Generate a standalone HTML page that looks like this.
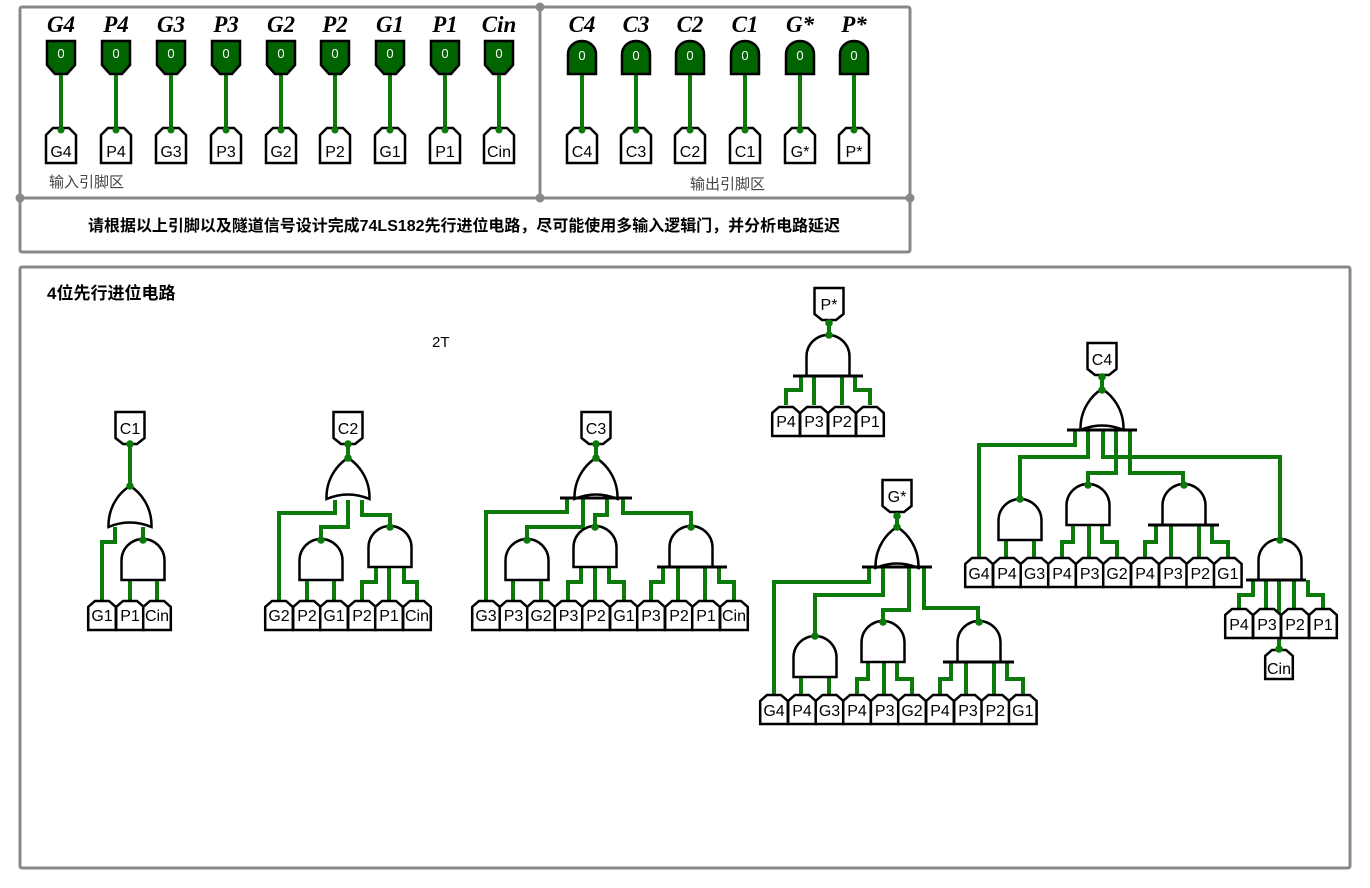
<!DOCTYPE html>
<html><head><meta charset="utf-8"><style>
html,body{margin:0;padding:0;background:#fff;}
svg{display:block;font-family:"Liberation Sans","Noto Sans CJK SC",sans-serif;}
.w{stroke:#0b7a0b;stroke-width:4;fill:none;stroke-linejoin:miter}
.g{fill:#fff;stroke:#000;stroke-width:2.5}
.b{stroke:#000;stroke-width:3}
.t{font-size:16px;text-anchor:middle;fill:#000}
.h{font-family:"Liberation Serif",serif;font-weight:bold;font-style:italic;font-size:23px;text-anchor:middle}
.d{fill:#0b7a0b}
</style></head><body>
<svg width="1370" height="888" viewBox="0 0 1370 888" xmlns="http://www.w3.org/2000/svg">
<defs>
<path id="tu" class="g" d="M-13.8,30V7L-7,1H7L13.8,7V30Z"/>
<path id="tu2" class="g" d="M-15,35V7L-8,0H8L15,7V35Z"/>
<path id="td" class="g" d="M-14.5,0H14.5V26L7,32H-7L-14.5,26Z"/>
<path id="or" class="g" d="M-21.5,41C-22,20 -10,6 0,0C10,6 22,20 21.5,41Q0,32 -21.5,41Z"/>
<path id="and" class="g" d="M-21.5,41V21.5A21.5,21.5 0 0 1 21.5,21.5V41Z"/>
<path id="pin" d="M-14,0H14V24L6,33H-6L-14,24Z" fill="#006400" stroke="#000" stroke-width="2.5"/>
<path id="pout" d="M-14,33V13A14,13 0 0 1 14,13V33Z" fill="#006400" stroke="#000" stroke-width="2.5"/>
<circle id="dt" r="3.8" fill="#0b7a0b"/>
</defs>

<rect x="20" y="7" width="890" height="245" fill="none" stroke="#888" stroke-width="3" rx="2"/>
<line x1="540" y1="7" x2="540" y2="198" stroke="#888" stroke-width="3"/>
<line x1="20" y1="198" x2="910" y2="198" stroke="#888" stroke-width="3"/>
<circle cx="540" cy="7" r="4.5" fill="#888"/><circle cx="20" cy="198" r="4.5" fill="#888"/>
<circle cx="540" cy="198" r="4.5" fill="#888"/><circle cx="910" cy="198" r="4.5" fill="#888"/>
<rect x="20" y="267" width="1330" height="601" fill="none" stroke="#888" stroke-width="3" rx="2"/>

<g>
<path class="w" d="M61,70V130M116,70V130M171,70V130M226,70V130M281,70V130M335,70V130M390,70V130M445,70V130M499,70V130M582,70V130M636,70V130M690,70V130M745,70V130M800,70V130M854,70V130"/>
<use href="#pin" x="61" y="41"/><use href="#pin" x="116" y="41"/><use href="#pin" x="171" y="41"/><use href="#pin" x="226" y="41"/><use href="#pin" x="281" y="41"/><use href="#pin" x="335" y="41"/><use href="#pin" x="390" y="41"/><use href="#pin" x="445" y="41"/><use href="#pin" x="499" y="41"/>
<use href="#pout" x="582" y="41"/><use href="#pout" x="636" y="41"/><use href="#pout" x="690" y="41"/><use href="#pout" x="745" y="41"/><use href="#pout" x="800" y="41"/><use href="#pout" x="854" y="41"/>
<g fill="#fff" font-size="13" text-anchor="middle">
<text x="61" y="58">0</text><text x="116" y="58">0</text><text x="171" y="58">0</text><text x="226" y="58">0</text><text x="281" y="58">0</text><text x="335" y="58">0</text><text x="390" y="58">0</text><text x="445" y="58">0</text><text x="499" y="58">0</text>
<text x="582" y="60">0</text><text x="636" y="60">0</text><text x="690" y="60">0</text><text x="745" y="60">0</text><text x="800" y="60">0</text><text x="854" y="60">0</text>
</g>
<text class="h" x="61" y="32">G4</text><text class="h" x="116" y="32">P4</text><text class="h" x="171" y="32">G3</text><text class="h" x="226" y="32">P3</text><text class="h" x="281" y="32">G2</text><text class="h" x="335" y="32">P2</text><text class="h" x="390" y="32">G1</text><text class="h" x="445" y="32">P1</text><text class="h" x="499" y="32">Cin</text>
<text class="h" x="582" y="32">C4</text><text class="h" x="636" y="32">C3</text><text class="h" x="690" y="32">C2</text><text class="h" x="745" y="32">C1</text><text class="h" x="800" y="32">G*</text><text class="h" x="854" y="32">P*</text>
<use href="#tu2" x="61" y="128"/><use href="#tu2" x="116" y="128"/><use href="#tu2" x="171" y="128"/><use href="#tu2" x="226" y="128"/><use href="#tu2" x="281" y="128"/><use href="#tu2" x="335" y="128"/><use href="#tu2" x="390" y="128"/><use href="#tu2" x="445" y="128"/><use href="#tu2" x="499" y="128"/>
<use href="#tu2" x="582" y="128"/><use href="#tu2" x="636" y="128"/><use href="#tu2" x="690" y="128"/><use href="#tu2" x="745" y="128"/><use href="#tu2" x="800" y="128"/><use href="#tu2" x="854" y="128"/>
<g class="d"><circle cx="61" cy="130" r="3.5"/><circle cx="116" cy="130" r="3.5"/><circle cx="171" cy="130" r="3.5"/><circle cx="226" cy="130" r="3.5"/><circle cx="281" cy="130" r="3.5"/><circle cx="335" cy="130" r="3.5"/><circle cx="390" cy="130" r="3.5"/><circle cx="445" cy="130" r="3.5"/><circle cx="499" cy="130" r="3.5"/><circle cx="582" cy="130" r="3.5"/><circle cx="636" cy="130" r="3.5"/><circle cx="690" cy="130" r="3.5"/><circle cx="745" cy="130" r="3.5"/><circle cx="800" cy="130" r="3.5"/><circle cx="854" cy="130" r="3.5"/></g>
<text class="t" x="61" y="157">G4</text><text class="t" x="116" y="157">P4</text><text class="t" x="171" y="157">G3</text><text class="t" x="226" y="157">P3</text><text class="t" x="281" y="157">G2</text><text class="t" x="335" y="157">P2</text><text class="t" x="390" y="157">G1</text><text class="t" x="445" y="157">P1</text><text class="t" x="499" y="157">Cin</text>
<text class="t" x="582" y="157">C4</text><text class="t" x="636" y="157">C3</text><text class="t" x="690" y="157">C2</text><text class="t" x="745" y="157">C1</text><text class="t" x="800" y="157">G*</text><text class="t" x="854" y="157">P*</text>
</g>
<text x="49" y="187" font-size="15" fill="#444">输入引脚区</text>
<text x="690" y="189" font-size="15" fill="#444">输出引脚区</text>
<text x="88" y="231" font-size="16" font-weight="bold" textLength="752" lengthAdjust="spacingAndGlyphs">请根据以上引脚以及隧道信号设计完成74LS182先行进位电路，尽可能使用多输入逻辑门，并分析电路延迟</text>
<text x="47" y="299" font-size="17" font-weight="bold">4位先行进位电路</text>
<text x="432" y="347" font-size="15">2T</text>

<!-- C1 -->
<path class="w" d="M130,444V485M102,600V542H115V527M143,540V527M130,580V600M157,580V600"/>
<use href="#td" x="130" y="412"/><text class="t" x="130" y="434">C1</text>
<use href="#or" x="130" y="486"/><use href="#and" x="143" y="539"/>
<use href="#tu" x="102" y="600"/><use href="#tu" x="130" y="600"/><use href="#tu" x="157" y="600"/>
<text class="t" x="102" y="621">G1</text><text class="t" x="130" y="621">P1</text><text class="t" x="157" y="621">Cin</text>
<use href="#dt" x="130" y="486"/><use href="#dt" x="143" y="540"/><use href="#dt" x="130" y="444"/>

<!-- C2 -->
<path class="w" d="M348,444V457M279,600V513H335V500M321,540V527H348V500M390,527V515H362V500M307,580V600M334,580V600M362,600V582H376V567M389,600V567M417,600V582H404V567"/>
<use href="#td" x="348" y="412"/><text class="t" x="348" y="434">C2</text>
<use href="#or" x="348" y="458"/><use href="#and" x="321" y="539"/><use href="#and" x="390" y="526"/>
<use href="#tu" x="279" y="600"/><use href="#tu" x="307" y="600"/><use href="#tu" x="334" y="600"/><use href="#tu" x="362" y="600"/><use href="#tu" x="389" y="600"/><use href="#tu" x="417" y="600"/>
<text class="t" x="279" y="621">G2</text><text class="t" x="307" y="621">P2</text><text class="t" x="334" y="621">G1</text><text class="t" x="362" y="621">P2</text><text class="t" x="389" y="621">P1</text><text class="t" x="417" y="621">Cin</text>
<use href="#dt" x="348" y="458"/><use href="#dt" x="321" y="540"/><use href="#dt" x="390" y="527"/><use href="#dt" x="348" y="444"/>

<!-- C3 -->
<path class="w" d="M596,444V459M486,600V512H567V498M527,540V527H583V498M595,527V515H607V498M691,527V513H623V498M513,580V600M541,580V600M568,600V582H581V567M595,567V600M624,600V582H609V567M651,600V582H663V567M678,567V600M705,567V600M734,600V582H719V567"/>
<use href="#td" x="596" y="412"/><text class="t" x="596" y="434">C3</text>
<use href="#or" x="596" y="458"/><line class="b" x1="560" y1="498" x2="632" y2="498"/>
<use href="#and" x="527" y="539"/><use href="#and" x="595" y="526"/><use href="#and" x="691" y="526"/><line class="b" x1="657" y1="567" x2="727" y2="567"/>
<use href="#tu" x="486" y="600"/><use href="#tu" x="513.5" y="600"/><use href="#tu" x="541" y="600"/><use href="#tu" x="568.6" y="600"/><use href="#tu" x="596" y="600"/><use href="#tu" x="624" y="600"/><use href="#tu" x="651" y="600"/><use href="#tu" x="679" y="600"/><use href="#tu" x="706" y="600"/><use href="#tu" x="734" y="600"/>
<text class="t" x="486" y="621">G3</text><text class="t" x="513.5" y="621">P3</text><text class="t" x="541" y="621">G2</text><text class="t" x="568.6" y="621">P3</text><text class="t" x="596" y="621">P2</text><text class="t" x="624" y="621">G1</text><text class="t" x="651" y="621">P3</text><text class="t" x="679" y="621">P2</text><text class="t" x="706" y="621">P1</text><text class="t" x="734" y="621">Cin</text>
<use href="#dt" x="596" y="458"/><use href="#dt" x="527" y="540"/><use href="#dt" x="595" y="527"/><use href="#dt" x="691" y="527"/><use href="#dt" x="596" y="444"/>

<!-- P* -->
<path class="w" d="M829,323V335M786,405V390H801V376M814,376V405M842,376V405M870,405V390H855V376"/>
<use href="#td" x="829" y="288"/><text class="t" x="829" y="310">P*</text>
<use href="#and" x="828" y="335"/><line class="b" x1="793" y1="376" x2="863" y2="376"/>
<use href="#tu" x="786" y="406"/><use href="#tu" x="814" y="406"/><use href="#tu" x="842" y="406"/><use href="#tu" x="870" y="406"/>
<text class="t" x="786" y="427">P4</text><text class="t" x="814" y="427">P3</text><text class="t" x="842" y="427">P2</text><text class="t" x="870" y="427">P1</text>
<use href="#dt" x="829" y="335"/><use href="#dt" x="829" y="323"/>

<!-- G* -->
<path class="w" d="M897,516V527M774,695V582H869V567M815,635V595H883V567M883,622V610H909V567M978,622V608H924V567"/>
<use href="#td" x="897" y="480"/><text class="t" x="897" y="502">G*</text>
<use href="#or" x="897" y="527"/><line class="b" x1="862" y1="567" x2="932" y2="567"/>
<use href="#dt" x="897" y="527"/><use href="#dt" x="897" y="516"/>
<g>
<path class="w" d="M801,677V695M829,677V695M857,695V679H868V662M884,662V695M912,695V679H897V662M940,695V679H951V662M966,662V695M994,662V695M1023,695V679H1007V662"/>
<use href="#and" x="815" y="636"/><use href="#and" x="883" y="621"/><use href="#and" x="979" y="621"/>
<line class="b" x1="943" y1="662" x2="1014" y2="662"/>
<use href="#tu" x="774" y="694"/><use href="#tu" x="802" y="694"/><use href="#tu" x="829.5" y="694"/><use href="#tu" x="857" y="694"/><use href="#tu" x="884.7" y="694"/><use href="#tu" x="912" y="694"/><use href="#tu" x="940" y="694"/><use href="#tu" x="968" y="694"/><use href="#tu" x="995.3" y="694"/><use href="#tu" x="1022.8" y="694"/>
<text class="t" x="774" y="716">G4</text><text class="t" x="802" y="716">P4</text><text class="t" x="829.5" y="716">G3</text><text class="t" x="857" y="716">P4</text><text class="t" x="884.7" y="716">P3</text><text class="t" x="912" y="716">G2</text><text class="t" x="940" y="716">P4</text><text class="t" x="968" y="716">P3</text><text class="t" x="995.3" y="716">P2</text><text class="t" x="1022.8" y="716">G1</text>
<use href="#dt" x="815" y="636"/><use href="#dt" x="883" y="622"/><use href="#dt" x="979" y="622"/>
</g>

<!-- C4 -->
<path class="w" d="M1102,377V390M979,558V445H1075V430M1020,498V457H1088V430M1088,485V473H1116V430M1183,485V473H1130V430M1280,540V457H1103V430M1239,608V595H1253V580M1266,580V608M1279,580V650M1294,580V608M1323,608V595H1308V580"/>
<use href="#td" x="1102" y="343"/><text class="t" x="1102" y="365">C4</text>
<use href="#or" x="1102" y="389"/><line class="b" x1="1067" y1="430" x2="1137" y2="430"/>
<use href="#dt" x="1102" y="390"/><use href="#dt" x="1102" y="377"/>
<g transform="translate(205,-137)">
<path class="w" d="M801,677V695M829,677V695M857,695V679H868V662M884,662V695M912,695V679H897V662M940,695V679H951V662M966,662V695M994,662V695M1023,695V679H1007V662"/>
<use href="#and" x="815" y="636"/><use href="#and" x="883" y="621"/><use href="#and" x="979" y="621"/>
<line class="b" x1="943" y1="662" x2="1014" y2="662"/>
<use href="#tu" x="774" y="694"/><use href="#tu" x="802" y="694"/><use href="#tu" x="829.5" y="694"/><use href="#tu" x="857" y="694"/><use href="#tu" x="884.7" y="694"/><use href="#tu" x="912" y="694"/><use href="#tu" x="940" y="694"/><use href="#tu" x="968" y="694"/><use href="#tu" x="995.3" y="694"/><use href="#tu" x="1022.8" y="694"/>
<text class="t" x="774" y="716">G4</text><text class="t" x="802" y="716">P4</text><text class="t" x="829.5" y="716">G3</text><text class="t" x="857" y="716">P4</text><text class="t" x="884.7" y="716">P3</text><text class="t" x="912" y="716">G2</text><text class="t" x="940" y="716">P4</text><text class="t" x="968" y="716">P3</text><text class="t" x="995.3" y="716">P2</text><text class="t" x="1022.8" y="716">G1</text>
<use href="#dt" x="815" y="636"/><use href="#dt" x="883" y="622"/><use href="#dt" x="979" y="622"/>
</g>
<use href="#and" x="1280" y="539"/><line class="b" x1="1246" y1="580" x2="1306" y2="580"/>
<use href="#dt" x="1280" y="540"/>
<use href="#tu" x="1239" y="608"/><use href="#tu" x="1267" y="608"/><use href="#tu" x="1295" y="608"/><use href="#tu" x="1323" y="608"/>
<text class="t" x="1239" y="630">P4</text><text class="t" x="1267" y="630">P3</text><text class="t" x="1295" y="630">P2</text><text class="t" x="1323" y="630">P1</text>
<path class="w" d="M1279,642V650"/>
<use href="#tu" x="1279" y="649"/><text class="t" x="1279" y="674">Cin</text>
<use href="#dt" x="1279" y="649"/>
</svg>
</body></html>
